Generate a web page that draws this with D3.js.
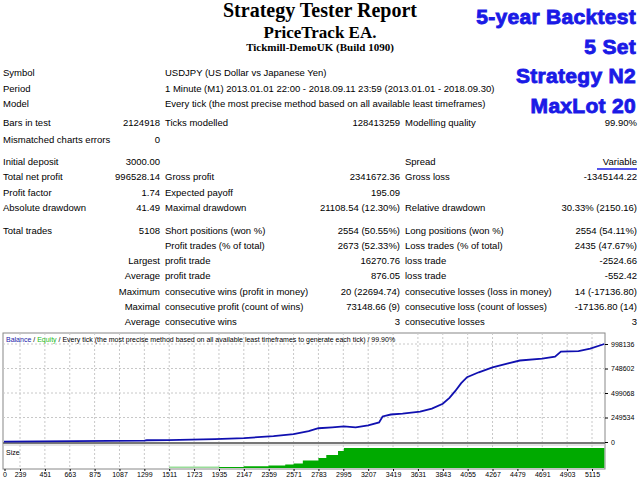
<!DOCTYPE html>
<html><head><meta charset="utf-8">
<script src="https://cdn.jsdelivr.net/npm/d3@7"></script>
<style>body{margin:0;background:#fff}svg text{font-family:"Liberation Sans",Arial,sans-serif}</style>
</head><body><svg id="c" width="640" height="480"></svg>
<script>
// ===== Data =====
const headLines = ["Strategy Tester Report", "PriceTrack EA.", "Tickmill-DemoUK (Build 1090)"];
const blueNotes = ["5-year Backtest", "5 Set", "Strategy N2", "MaxLot 20"];
const infoRows = [
  ["Symbol", "USDJPY (US Dollar vs Japanese Yen)"],
  ["Period", "1 Minute (M1) 2013.01.01 22:00 - 2018.09.11 23:59 (2013.01.01 - 2018.09.30)"],
  ["Model", "Every tick (the most precise method based on all available least timeframes)"]
];
// [y, label1, val1, label2, val2, label3, val3]
const statRows = [
  [123, "Bars in test", "2124918", "Ticks modelled", "128413259", "Modelling quality", "99.90%"],
  [140, "Mismatched charts errors", "0", "", "", "", ""],
  [162, "Initial deposit", "3000.00", "", "", "Spread", "Variable"],
  [177, "Total net profit", "996528.14", "Gross profit", "2341672.36", "Gross loss", "-1345144.22"],
  [193, "Profit factor", "1.74", "Expected payoff", "195.09", "", ""],
  [208, "Absolute drawdown", "41.49", "Maximal drawdown", "21108.54 (12.30%)", "Relative drawdown", "30.33% (2150.16)"],
  [231, "Total trades", "5108", "Short positions (won %)", "2554 (50.55%)", "Long positions (won %)", "2554 (54.11%)"],
  [246, "", "", "Profit trades (% of total)", "2673 (52.33%)", "Loss trades (% of total)", "2435 (47.67%)"],
  [261, "", "Largest", "profit trade", "16270.76", "loss trade", "-2524.66"],
  [276, "", "Average", "profit trade", "876.05", "loss trade", "-552.42"],
  [292, "", "Maximum", "consecutive wins (profit in money)", "20 (22694.74)", "consecutive losses (loss in money)", "14 (-17136.80)"],
  [307, "", "Maximal", "consecutive profit (count of wins)", "73148.66 (9)", "consecutive loss (count of losses)", "-17136.80 (14)"],
  [322, "", "Average", "consecutive wins", "3", "consecutive losses", "3"]
];
const xTicks = [0,239,451,663,875,1087,1299,1511,1723,1935,2147,2359,2571,2783,2995,3207,3419,3631,3843,4055,4267,4479,4691,4903,5115];
const yTicks = [0, 249534, 499068, 748602, 998136];
const balTrade = [0,1300,1320,1500,1900,2150,2400,2571,2700,2783,2900,3000,3100,3207,3300,3330,3400,3500,3650,3750,3843,3900,3950,4000,4050,4150,4267,4400,4500,4691,4800,4850,5000,5100,5220];
const balValue = [3000,15000,18000,20000,30000,40000,60000,80000,110000,140000,150000,160000,150000,170000,200000,260000,280000,290000,310000,340000,390000,450000,520000,600000,660000,710000,760000,800000,830000,850000,870000,920000,925000,950000,998136];
const sizeTrade = [1511,1935,2147,2359,2500,2571,2650,2783,2850,2950,3000,5220];
const sizeValue = [0.6,1,1.8,2.6,3.5,4.5,7.5,10,13,17,20,20];

const svg = d3.select("#c");

// ===== Header =====
svg.append("text").attr("x", 320).attr("y", 17).attr("text-anchor", "middle")
  .style("font-family", "'Liberation Serif',serif").style("font-weight", "bold").style("font-size", "20px").text(headLines[0]);
svg.append("text").attr("x", 320).attr("y", 38).attr("text-anchor", "middle")
  .style("font-family", "'Liberation Serif',serif").style("font-weight", "bold").style("font-size", "17px").text(headLines[1]);
svg.append("text").attr("x", 320).attr("y", 51).attr("text-anchor", "middle")
  .style("font-family", "'Liberation Serif',serif").style("font-weight", "bold").style("font-size", "11px").text(headLines[2]);

svg.selectAll(".blue").data(blueNotes).enter().append("text")
  .attr("x", 636).attr("y", (d, i) => 24 + i * 29.5).attr("text-anchor", "end")
  .style("font-family", "'Liberation Sans',Arial,sans-serif").style("font-weight", "bold").style("font-size", "21px")
  .style("fill", "#1a1ae6").style("stroke", "#1a1ae6").style("stroke-width", "0.9px")
  .style("letter-spacing", "0.3px").text(d => d);

const small = "9.5px";
infoRows.forEach((r, i) => {
  const y = 76 + i * 15.5;
  svg.append("text").attr("x", 3).attr("y", y).style("font-size", small).text(r[0]);
  svg.append("text").attr("x", 165).attr("y", y).style("font-size", small).text(r[1]);
});
statRows.forEach(r => {
  const y = r[0] + 3;
  svg.append("text").attr("x", 3).attr("y", y).style("font-size", small).text(r[1]);
  svg.append("text").attr("x", 160).attr("y", y).attr("text-anchor", "end").style("font-size", small).text(r[2]);
  svg.append("text").attr("x", 165).attr("y", y).style("font-size", small).text(r[3]);
  svg.append("text").attr("x", 400).attr("y", y).attr("text-anchor", "end").style("font-size", small).text(r[4]);
  svg.append("text").attr("x", 405).attr("y", y).style("font-size", small).text(r[5]);
  svg.append("text").attr("x", 637).attr("y", y).attr("text-anchor", "end").style("font-size", small).text(r[6]);
});
svg.append("line").attr("x1", 597).attr("x2", 637).attr("y1", 169).attr("y2", 169)
  .attr("stroke", "#1a1ae6").attr("stroke-width", 1.5);

// ===== Chart =====
const L = 3, R = 605, T = 333, B0 = 442, SB = 469, ST = 446;
const x = d3.scaleLinear().domain([239, 5115]).range([20, 592]);
const y = d3.scaleLinear().domain([0, 998136]).range([B0, 344]);
const ys = d3.scaleLinear().domain([0, 20]).range([SB - 1, 448]);

svg.append("rect").attr("x", L).attr("y", T).attr("width", R - L).attr("height", SB - T)
  .attr("fill", "#fff").attr("stroke", "#888");

const grid = svg.append("g").attr("stroke", "#c8c8c8").attr("stroke-dasharray", "2,2");
xTicks.slice(1).forEach(t => {
  grid.append("line").attr("x1", x(t)).attr("x2", x(t)).attr("y1", T).attr("y2", SB);
});
yTicks.slice(1).forEach(v => {
  grid.append("line").attr("x1", L).attr("x2", R).attr("y1", y(v)).attr("y2", y(v));
});

// size panel
const sizeData = sizeTrade.map((t, i) => [t, sizeValue[i]]);
svg.append("path").datum(sizeData)
  .attr("d", d3.area().curve(d3.curveStepAfter).x(d => x(d[0])).y0(SB - 1).y1(d => ys(d[1])))
  .attr("fill", "#00aa00");
svg.append("rect").attr("x", x(1511)).attr("y", SB - 2.5).attr("width", x(1935) - x(1511)).attr("height", 1.5).attr("fill", "#99dd99");

svg.append("line").attr("x1", L).attr("x2", R).attr("y1", B0 + 1).attr("y2", B0 + 1).attr("stroke", "#777").attr("stroke-width", 2);
svg.append("line").attr("x1", L).attr("x2", R).attr("y1", ST - 1).attr("y2", ST - 1).attr("stroke", "#ccc");

// balance line
const balData = balTrade.map((t, i) => [t, balValue[i]]);
svg.append("path").datum(balData)
  .attr("d", d3.line().x(d => Math.max(L + 1, x(d[0]))).y(d => y(d[1])))
  .attr("fill", "none").attr("stroke", "#1010b0").attr("stroke-width", 1.8);

// legend line
const lg = svg.append("text").attr("x", 6).attr("y", 342).style("font-size", "7px");
lg.append("tspan").attr("fill", "#2222aa").text("Balance");
lg.append("tspan").attr("fill", "#000").text(" / ");
lg.append("tspan").attr("fill", "#22bb22").text("Equity");
lg.append("tspan").attr("fill", "#000").text(" / Every tick (the most precise method based on all available least timeframes to generate each tick) / 99.90%");
svg.append("text").attr("x", 6).attr("y", 455).style("font-size", "7px").text("Size");

// axes
svg.append("g").attr("transform", `translate(${R},0)`)
  .call(d3.axisRight(y).tickValues(yTicks).tickSize(3).tickFormat(d3.format("d")))
  .call(g => g.select(".domain").remove())
  .selectAll("text").style("font-size", "7px");
svg.append("g").attr("transform", `translate(0,${SB})`)
  .call(d3.axisBottom(x).tickValues(xTicks).tickSize(2).tickPadding(1).tickFormat(d3.format("d")))
  .call(g => g.select(".domain").remove())
  .call(g => g.selectAll(".tick").filter(d => d === 0).attr("transform", "translate(5,0)"))
  .selectAll("text").style("font-size", "7px");
</script></body></html>
